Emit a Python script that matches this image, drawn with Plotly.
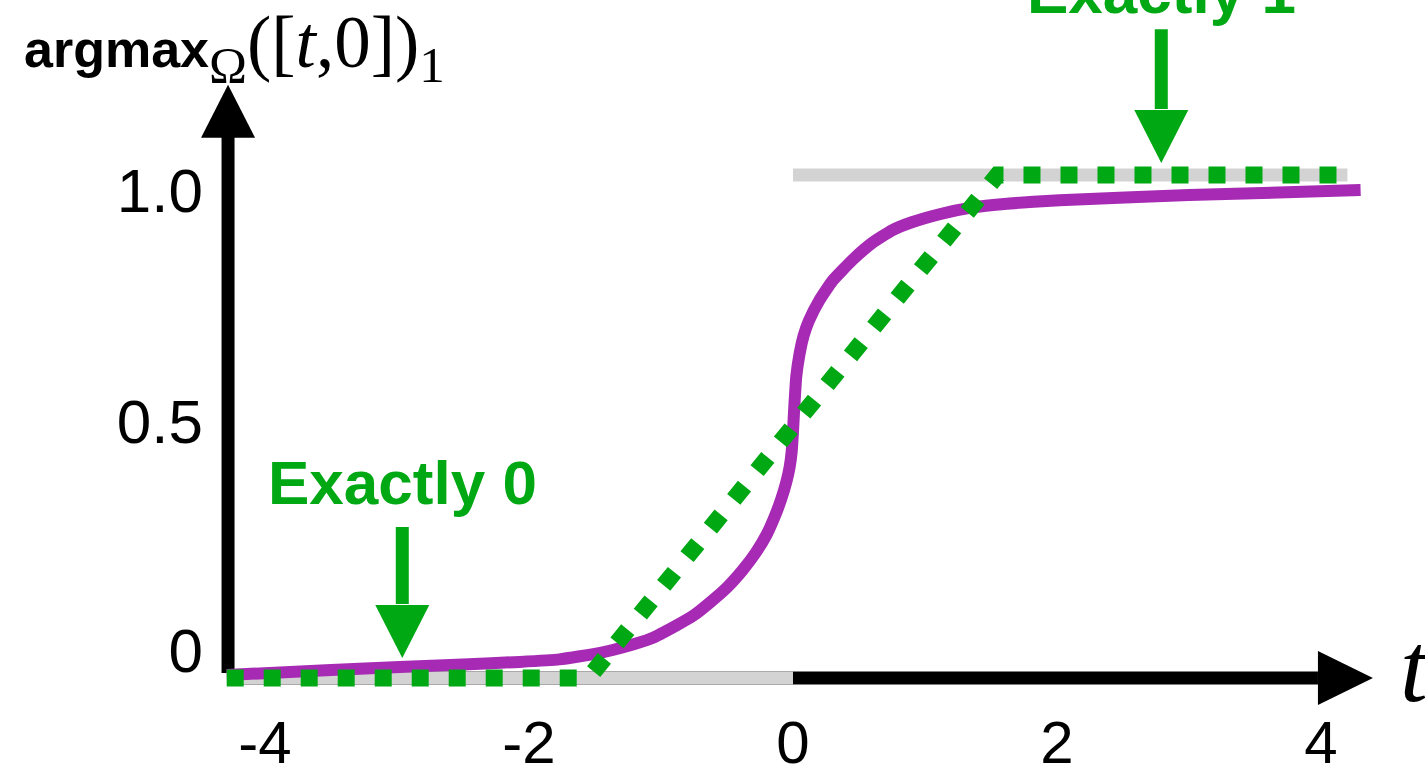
import plotly.graph_objects as go

# ---- data -------------------------------------------------------------
# smooth regularised argmax (purple)
t_smooth = [-4.29, -3.5, -2.98, -2.5, -2.07, -1.77, -1.46, -1.26, -1.08, -0.88,
            -0.75, -0.63, -0.50, -0.38, -0.28, -0.20, -0.14, -0.09, -0.05, -0.025,
            -0.01, 0.0, 0.01, 0.025, 0.05, 0.08, 0.12, 0.20, 0.30, 0.45,
            0.60, 0.75, 0.90, 1.11, 1.35, 1.62, 2.02, 3.0, 4.30]
p_smooth = [0.006, 0.016, 0.022, 0.027, 0.032, 0.037, 0.050, 0.063, 0.078, 0.105,
            0.125, 0.150, 0.180, 0.215, 0.250, 0.285, 0.320, 0.355, 0.390, 0.420,
            0.450, 0.490, 0.540, 0.600, 0.645, 0.680, 0.710, 0.751, 0.790, 0.831,
            0.865, 0.890, 0.906, 0.922, 0.935, 0.943, 0.950, 0.960, 0.970]

# sparse argmax (green, dotted): exactly 0 / exactly 1 outside the ramp
t_sparse = [-4.29, -1.55, 1.55, 4.23]
p_sparse = [0, 0, 1, 1]

# hard argmax step (grey)
t_hard = [-4.29, 0.0, None, 0.0, 4.2]
p_hard = [0, 0, None, 1, 1]

x_tick_vals = [-4, -2, 0, 2, 4]
x_tick_text = ["-4", "-2", "0", "2", "4"]
y_tick_vals = [0.056, 0.511, 0.970]
y_tick_text = ["0", "0.5", "1.0"]

# ---- styling ----------------------------------------------------------
W, H = 1425, 777
GREEN = "#00A814"
PURPLE = "#A62AB3"
GREY = "#D3D3D3"
SANS = "Liberation Sans, Arial, Helvetica, sans-serif"
SERIF = "Liberation Serif, Times New Roman, serif"

X_RANGE = [-793 / 132, (W - 793) / 132]
Y_RANGE = [(678 - H) / 503, 678 / 503]
AXIS_T = -4.28          # where the vertical axis stands
HEAD_W, HEAD_L, SHAFT_W = 54, 53, 13

fig = go.Figure()

fig.add_trace(go.Scatter(x=t_hard, y=p_hard, mode="lines",
                         line=dict(color=GREY, width=13), hoverinfo="skip"))
fig.add_trace(go.Scatter(x=t_smooth, y=p_smooth, mode="lines",
                         line=dict(color=PURPLE, width=12, shape="spline", smoothing=0.4),
                         hoverinfo="skip"))
fig.add_trace(go.Scatter(x=t_sparse, y=p_sparse, mode="lines",
                         line=dict(color=GREEN, width=17, dash="17px,20px"),
                         hoverinfo="skip"))

shapes = []


def shaft(x0, y0, x1, y1, color, layer):
    shapes.append(dict(type="line", xref="x", yref="y", x0=x0, y0=y0, x1=x1, y1=y1,
                       line=dict(color=color, width=SHAFT_W), layer=layer))


def head(xa, ya, path, color):
    shapes.append(dict(type="path", xref="x", yref="y", xsizemode="pixel", ysizemode="pixel",
                       xanchor=xa, yanchor=ya, path=path, fillcolor=color,
                       line=dict(width=0), layer="above"))


hw = HEAD_W / 2
up = f"M{-hw},0 L{hw},0 L0,{HEAD_L} Z"
down = f"M{-hw},0 L{hw},0 L0,{-HEAD_L} Z"
right = f"M0,{-hw} L0,{hw} L{HEAD_L + 2},0 Z"

# axes with arrow heads
shaft(AXIS_T, 0.0, 3.977, 0.0, "black", "below")
head(3.977, 0.0, right, "black")
shaft(AXIS_T, 0.01, AXIS_T, 1.076, "black", "below")
head(AXIS_T, 1.074, up, "black")

# "Exactly" pointers
shaft(-2.96, 0.30, -2.96, 0.147, GREEN, "above")
head(-2.96, 0.145, down, GREEN)
shaft(2.79, 1.29, 2.79, 1.131, GREEN, "above")
head(2.79, 1.129, down, GREEN)

title_text = ("<span style='font-family:Liberation Sans;font-weight:bold;font-size:52px'>argmax</span>"
              "<sub>Ω</sub>([<i>t</i>,0])<sub>1</sub>")

annotations = [
    dict(x=-2.96, y=0.388, xref="x", yref="y", text="<b>Exactly 0</b>", showarrow=False,
         font=dict(family=SANS, size=62, color=GREEN), xanchor="center", yanchor="middle"),
    dict(x=2.79, y=1 + 9 / H, xref="x", yref="paper", text="<b>Exactly 1</b>", showarrow=False,
         font=dict(family=SANS, size=62, color=GREEN), xanchor="center", yanchor="middle"),
    dict(x=22 / W, y=1.0, xref="paper", yref="paper", text=title_text,
         showarrow=False, font=dict(family=SERIF, size=73, color="black"),
         xanchor="left", yanchor="top"),
    dict(x=(1398 - 793) / 132, y=0.02, xref="x", yref="y", text="<i>t</i>", showarrow=False,
         font=dict(family=SERIF, size=100, color="black"), xanchor="left", yanchor="middle"),
]

fig.update_layout(
    width=W, height=H,
    margin=dict(l=0, r=0, t=0, b=0, autoexpand=False),
    paper_bgcolor="white", plot_bgcolor="white",
    showlegend=False,
    shapes=shapes,
    annotations=annotations,
    xaxis=dict(range=X_RANGE, anchor="free", position=(H - 678) / H, automargin=False,
               showgrid=False, zeroline=False, showline=False, ticks="",
               tickvals=x_tick_vals, ticktext=x_tick_text, ticklabelstandoff=24,
               tickfont=dict(family=SANS, size=60, color="black")),
    yaxis=dict(range=Y_RANGE, anchor="free", position=228 / W, automargin=False,
               showgrid=False, zeroline=False, showline=False, ticks="",
               tickvals=y_tick_vals, ticktext=y_tick_text, ticklabelstandoff=25,
               tickfont=dict(family=SANS, size=62, color="black")),
)

fig.write_html("out.html")
